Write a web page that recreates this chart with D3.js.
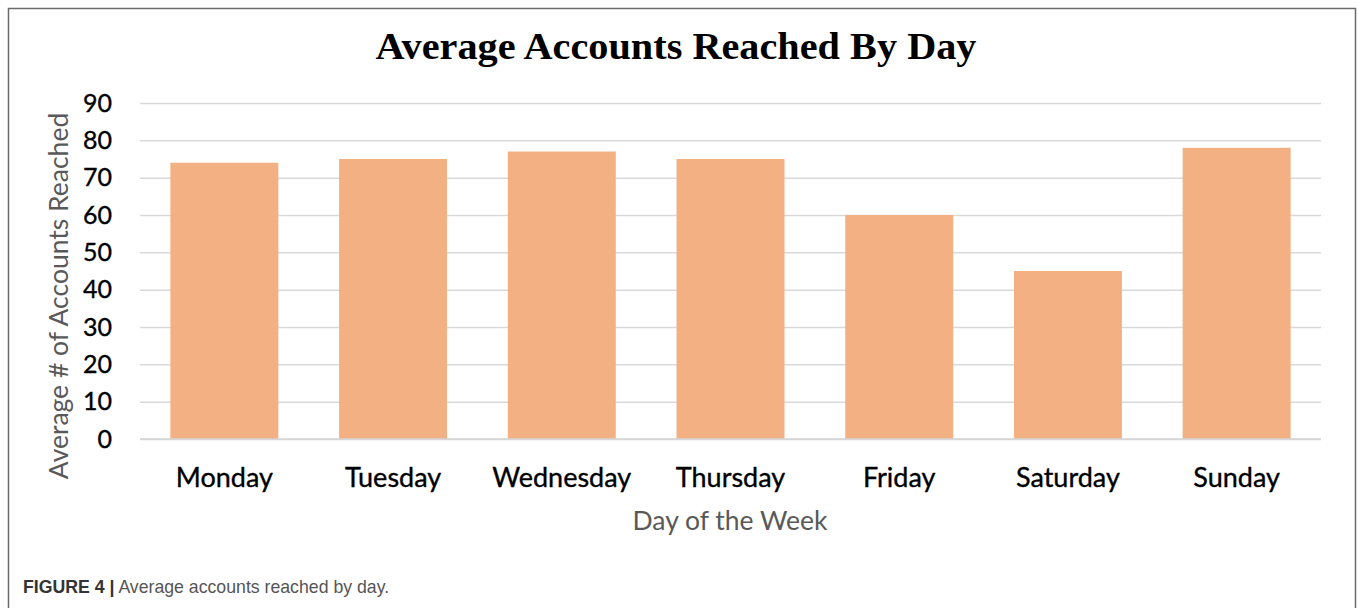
<!DOCTYPE html>
<html>
<head>
<meta charset="utf-8">
<script src="https://cdn.jsdelivr.net/npm/d3@7"></script>
<style>
  html, body { margin: 0; padding: 0; background: #fff; }
  svg { display: block; }
</style>
</head>
<body>
<svg id="chart" width="1358" height="608"></svg>
<script>
const days = ["Monday", "Tuesday", "Wednesday", "Thursday", "Friday", "Saturday", "Sunday"];
const avgReached = [74, 75, 77, 75, 60, 45, 78];
const yTicks = [0, 10, 20, 30, 40, 50, 60, 70, 80, 90];
const titleText = "Average Accounts Reached By Day";
const yTitle = "Average # of Accounts Reached";
const xTitle = "Day of the Week";
const captionBold = "FIGURE 4 |";
const captionText = " Average accounts reached by day.";

const svg = d3.select("#chart");

// outer frame
svg.append("rect")
  .attr("x", 8.5).attr("y", 8.5)
  .attr("width", 1347).attr("height", 640)
  .attr("fill", "none").attr("stroke", "#6b6b6b").attr("stroke-width", 1.5);

const plotLeft = 140, plotRight = 1321, plotTop = 103, plotBottom = 439;

const x = d3.scaleBand().domain(days).range([plotLeft, plotRight])
  .paddingInner(0.36).paddingOuter(0.18);
const y = d3.scaleLinear().domain([0, 90]).range([plotBottom, plotTop]);

const sans = "Lato, 'Open Sans', 'DejaVu Sans', sans-serif";

// y axis with gridlines
const yAxis = svg.append("g")
  .attr("transform", `translate(${plotLeft},0)`)
  .call(d3.axisLeft(y).tickValues(yTicks).tickSize(-(plotRight - plotLeft)).tickPadding(28));
yAxis.select(".domain").remove();
yAxis.selectAll(".tick line").attr("stroke", "#d9d9d9").attr("stroke-width", 1.5);
yAxis.selectAll(".tick text")
  .attr("font-family", sans).attr("font-size", 25).attr("fill", "#000")
  .attr("stroke", "#000").attr("stroke-width", 0.35);

// bars
svg.append("g").selectAll("rect")
  .data(days)
  .join("rect")
  .attr("x", d => x(d))
  .attr("y", (d, i) => y(avgReached[i]))
  .attr("width", x.bandwidth())
  .attr("height", (d, i) => y(0) - y(avgReached[i]))
  .attr("fill", "#F3B083");

// x axis
const xAxis = svg.append("g")
  .attr("transform", `translate(0,${plotBottom})`)
  .call(d3.axisBottom(x).tickSize(0).tickPadding(29));
xAxis.select(".domain").attr("stroke", "#d4d4d4").attr("stroke-width", 1.5)
  .attr("d", `M${plotLeft},0H${plotRight}`);
xAxis.selectAll(".tick text")
  .attr("font-family", sans).attr("font-size", 27).attr("fill", "#000")
  .attr("stroke", "#000").attr("stroke-width", 0.35);

// title
svg.append("text")
  .attr("x", 676).attr("y", 59)
  .attr("text-anchor", "middle")
  .attr("font-family", "'Liberation Serif', 'Times New Roman', serif")
  .attr("font-weight", "bold").attr("font-size", 38)
  .attr("textLength", 601).attr("lengthAdjust", "spacingAndGlyphs")
  .attr("fill", "#000")
  .text(titleText);

// y title
svg.append("text")
  .attr("transform", "translate(68,296) rotate(-90)")
  .attr("text-anchor", "middle")
  .attr("font-family", sans).attr("font-size", 26.5)
  .attr("fill", "#595959")
  .text(yTitle);

// x title
svg.append("text")
  .attr("x", 730).attr("y", 530)
  .attr("text-anchor", "middle")
  .attr("font-family", sans).attr("font-size", 26.5)
  .attr("fill", "#595959")
  .text(xTitle);

// caption
const cap = svg.append("text")
  .attr("x", 23).attr("y", 593)
  .attr("font-family", "'Liberation Sans', Arial, sans-serif")
  .attr("font-size", 17.7);
cap.append("tspan").attr("font-weight", "bold").attr("fill", "#333").text(captionBold);
cap.append("tspan").attr("fill", "#555").text(captionText);
</script>
</body>
</html>
